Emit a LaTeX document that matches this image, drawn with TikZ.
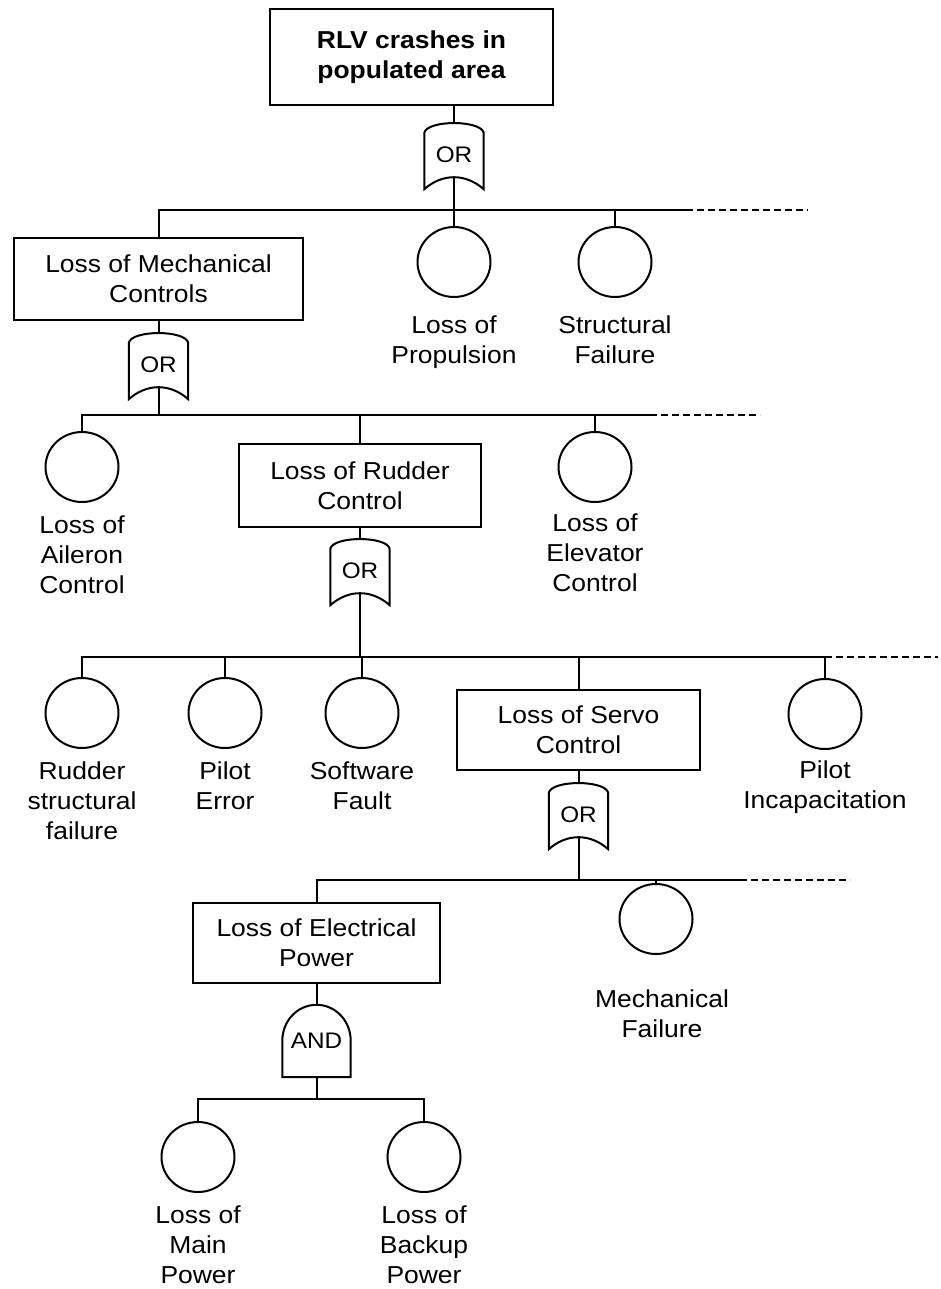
\documentclass[tikz,border=0pt]{standalone}
\usepackage{fontspec}
\setmainfont{Liberation Sans}[FakeStretch=1.08]
\usetikzlibrary{calc,shapes.geometric}

% OR gate outline: rounded top, concave bottom; #1-out is the output point
\newcommand\drawORgate[1]{%
  \draw[ln] ($(#1.north west)+(0,12)$)
      .. controls ($(#1.north west)+(3,-1)$) and ($(#1.north east)+(-3,-1)$) ..
      ($(#1.north east)+(0,12)$) -- (#1.south east)
      .. controls ($(#1.south east)+(-18,-16)$) and ($(#1.south west)+(18,-16)$) ..
      (#1.south west) -- cycle;
  \coordinate (#1-out) at ($(#1.south)+(0,-12)$);}
% AND gate outline: flat bottom, half-round top
\newcommand\drawANDgate[1]{%
  \draw[ln] (#1.south west) -- ($(#1.north west)+(0,36)$)
      .. controls ($(#1.north west)+(0,16)$) and ($(#1.north)+(-19,0)$) .. (#1.north)
      .. controls ($(#1.north)+(19,0)$) and ($(#1.north east)+(0,16)$) ..
      ($(#1.north east)+(0,36)$) -- (#1.south east) -- cycle;
  \coordinate (#1-out) at (#1.south);}

\tikzset{
  ln/.style={line width=2pt, line cap=rect},
  txt/.style={font=\fontsize{24.5}{30}\selectfont},
  evbox/.style={draw, ln, txt, align=center, inner sep=0pt},
  basic/.style={draw, ln, ellipse, minimum width=73pt, minimum height=70pt, inner sep=0pt},
  gatebox/.style={inner sep=0pt, minimum width=59pt, minimum height=68pt, font=\fontsize{22.5}{26}\selectfont},
  andbox/.style={inner sep=0pt, minimum width=68pt, minimum height=72pt, font=\fontsize{22.5}{26}\selectfont},
  lbl/.style={txt, anchor=north, align=center, inner sep=0pt},
  ext/.style={ln, line cap=butt, dash pattern=on 7pt off 4pt},
}

\begin{document}
\begin{tikzpicture}[x=1pt, y=-1pt]
\useasboundingbox (0,0) rectangle (940,1289);

% ---- top event
\node[evbox, minimum width=283pt, minimum height=96pt, font=\fontsize{24.5}{30}\selectfont\bfseries]
  (top) at (411.5,57) {RLV crashes in\\populated area};
\node[gatebox] (g1) at (454,155) {OR};
\drawORgate{g1}
\draw[ln] (g1.north |- top.south) -- (g1.north);

% ---- level 1
\coordinate (b1L) at (158.5,210);
\coordinate (b1R) at (686,210);
\coordinate (b1D) at (808,210);
\draw[ln] (g1-out) -- (g1-out |- b1L);
\draw[ln] (b1L) -- (b1R);
\draw[ext] (b1R) -- (b1D);

\node[evbox, minimum width=289pt, minimum height=82pt] (mech) at (158.5,279) {Loss of Mechanical\\Controls};
\node[basic] (prop) at (454,262) {};
\node[basic] (strf) at (615,262) {};
\node[lbl] (propL) at (454,316) {Loss of\\Propulsion};
\node[lbl] (strfL) at (615,316) {Structural\\Failure};
\foreach \n in {mech,prop,strf} \draw[ln] (\n.north |- b1L) -- (\n.north);

\node[gatebox] (g2) at (158.5,365) {OR};
\drawORgate{g2}
\draw[ln] (g2.north |- mech.south) -- (g2.north);

% ---- level 2
\coordinate (b2L) at (82,415);
\coordinate (b2R) at (650,415);
\coordinate (b2D) at (760,415);
\draw[ln] (g2-out) -- (g2-out |- b2L);
\draw[ln] (b2L) -- (b2R);
\draw[ext] (b2R) -- (b2D);

\node[basic] (ail) at (82,467) {};
\node[evbox, minimum width=242pt, minimum height=83pt] (rud) at (360,485.5) {Loss of Rudder\\Control};
\node[basic] (elev) at (595,467) {};
\node[lbl] (ailL) at (82,516) {Loss of\\Aileron\\Control};
\node[lbl] (elevL) at (595,514) {Loss of\\Elevator\\Control};
\foreach \n in {ail,rud,elev} \draw[ln] (\n.north |- b2L) -- (\n.north);

\node[gatebox] (g3) at (360,571) {OR};
\drawORgate{g3}
\draw[ln] (g3.north |- rud.south) -- (g3.north);

% ---- level 3
\coordinate (b3L) at (82,657);
\coordinate (b3R) at (825,657);
\coordinate (b3D) at (938,657);
\draw[ln] (g3-out) -- (g3-out |- b3L);
\draw[ln] (b3L) -- (b3R);
\draw[ext] (b3R) -- (b3D);

\node[basic] (rsf) at (82,713) {};
\node[basic] (perr) at (225,713) {};
\node[basic] (swf) at (362,713) {};
\node[evbox, minimum width=243pt, minimum height=80pt] (servo) at (578.5,730) {Loss of Servo\\Control};
\node[basic] (pinc) at (825,714) {};
\node[lbl] (rsfL) at (82,762) {Rudder\\structural\\failure};
\node[lbl] (perrL) at (225,762) {Pilot\\Error};
\node[lbl] (swfL) at (362,762) {Software\\Fault};
\node[lbl] (pincL) at (825,761) {Pilot\\Incapacitation};
\foreach \n in {rsf,perr,swf,servo,pinc} \draw[ln] (\n.north |- b3L) -- (\n.north);

\node[gatebox] (g4) at (578.5,815) {OR};
\drawORgate{g4}
\draw[ln] (g4.north |- servo.south) -- (g4.north);

% ---- level 4
\coordinate (b4L) at (316.5,880);
\coordinate (b4R) at (740,880);
\coordinate (b4D) at (850,880);
\draw[ln] (g4-out) -- (g4-out |- b4L);
\draw[ln] (b4L) -- (b4R);
\draw[ext] (b4R) -- (b4D);

\node[evbox, minimum width=247pt, minimum height=80pt] (elec) at (316.5,943) {Loss of Electrical\\Power};
\node[basic] (mfail) at (656,919) {};
\node[lbl] (mfailL) at (662,990) {Mechanical\\Failure};
\foreach \n in {elec,mfail} \draw[ln] (\n.north |- b4L) -- (\n.north);

\node[andbox] (g5) at (316.5,1041) {AND};
\drawANDgate{g5}
\draw[ln] (g5.north |- elec.south) -- (g5.north);

% ---- level 5
\coordinate (b5L) at (198,1099);
\coordinate (b5R) at (424,1099);
\draw[ln] (g5-out) -- (g5-out |- b5L);
\draw[ln] (b5L) -- (b5R);

\node[basic] (mainp) at (198,1157) {};
\node[basic] (backp) at (424,1157) {};
\node[lbl] (mainpL) at (198,1206) {Loss of\\Main\\Power};
\node[lbl] (backpL) at (424,1206) {Loss of\\Backup\\Power};
\foreach \n in {mainp,backp} \draw[ln] (\n.north |- b5L) -- (\n.north);
\end{tikzpicture}
\end{document}
